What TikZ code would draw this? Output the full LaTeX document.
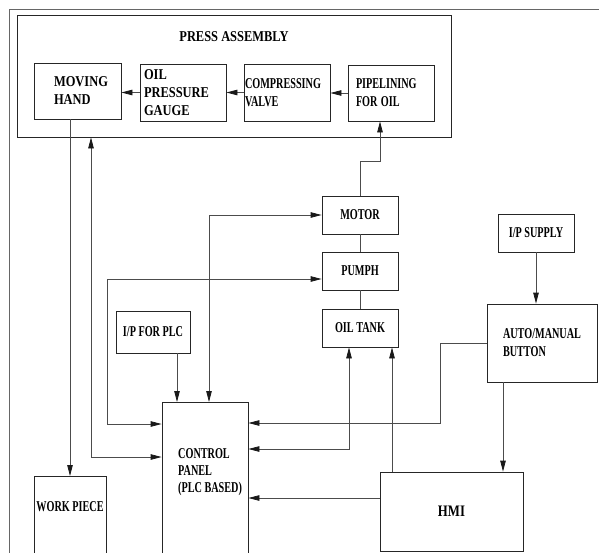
\documentclass[tikz,border=0pt]{standalone}
\usepackage{graphicx}
\usepackage{fontspec}
\setmainfont{Liberation Serif}
\usetikzlibrary{arrows.meta}

% narrow, tall caps as in the scanned chart
\newcommand{\nar}[1]{\scalebox{0.68}[1]{#1}}
\newcommand{\wid}[1]{\scalebox{0.83}[1]{#1}}

\tikzset{
    blk/.style={draw=black!85, line width=0.8pt, align=left, inner sep=0pt,
        font=\bfseries\fontsize{15}{18}\selectfont},
    txt/.style={align=left, inner sep=0pt, font=\bfseries\fontsize{15}{17}\selectfont},
    link/.style={draw=black!70, line width=0.8pt},
    frame/.style={draw=black!60, line width=0.8pt}
}

\begin{document}
\begin{tikzpicture}[x=1pt,y=-1pt,>={Triangle[length=11pt,width=5.5pt,color=black!90]}]
        % Page area
        \useasboundingbox (0,0) rectangle (599,552);
        \clip (0,0) rectangle (599,552);
        \draw[frame] (9,9) rectangle (650,650);

        % Press assembly and its parts
        \node[blk, minimum width=434pt, minimum height=122pt] (press) at (234,76) {};
        \node[txt] (presslbl) at (234,37) {\wid{PRESS ASSEMBLY}};
        \node[blk, minimum width=87pt, minimum height=56pt, text width=47pt] (hand) at (77.5,91) {\wid{MOVING}\\\wid{HAND}};
        \node[blk, minimum width=86pt, minimum height=57pt, text width=78pt] (gauge) at (183,92.5) {\wid{OIL}\\\wid{PRESSURE}\\\wid{GAUGE}};
        \node[blk, minimum width=86pt, minimum height=57pt, text width=84pt] (valve) at (287,92.5) {\nar{COMPRESSING}\\\nar{VALVE}};
        \node[blk, minimum width=86pt, minimum height=56pt, text width=70pt] (pipe) at (391,93) {\nar{PIPELINING}\\\nar{FOR OIL}};

        % Oil circuit
        \node[blk, minimum width=76pt, minimum height=38pt] (motor) at (360,215) {\nar{MOTOR}};
        \node[blk, minimum width=76pt, minimum height=38pt] (pump) at (360,271) {\nar{PUMPH}};
        \node[blk, minimum width=76pt, minimum height=38pt] (tank) at (360,328) {\nar{OIL TANK}};

        % Control side
        \node[blk, minimum width=74pt, minimum height=42pt] (plcin) at (153,332) {\nar{I/P FOR PLC}};
        \node[blk, minimum width=86pt, minimum height=250pt, anchor=north] (panel) at (205,402) {};
        \node[txt, anchor=west] (panellbl) at (178,472) {\nar{CONTROL}\\\nar{PANEL}\\\nar{(PLC BASED)}};
        \node[blk, minimum width=72pt, minimum height=150pt, anchor=north] (work) at (70,476) {};
        \node[txt] (worklbl) at (70,507) {\nar{WORK PIECE}};
        \node[blk, minimum width=143pt, minimum height=79pt] (hmi) at (451.5,511.5) {\fontsize{16}{18}\selectfont\scalebox{0.8}[1]{HMI}};
        \node[blk, minimum width=110pt, minimum height=78pt] (auto) at (542,343) {\nar{AUTO/MANUAL}\\\nar{BUTTON}};
        \node[blk, minimum width=76pt, minimum height=38pt] (supply) at (536,233) {\nar{I/P SUPPLY}};

        % Bends of the wires
        \coordinate (pressret) at (91,457);
        \coordinate (pumpbus) at (107,424);
        \coordinate (pumpin) at ([yshift=-8pt]pump.west);
        \coordinate (motorbus) at (209,215);
        \coordinate (plcout) at ([xshift=24pt]plcin.south);
        \coordinate (pipefeed) at (380,161);
        \coordinate (tankbus) at (349,449);
        \coordinate (hmiup) at ([xshift=-59.5pt]hmi.north);
        \coordinate (hmiout) at ([yshift=13.5pt]hmi.west);
        \coordinate (autobus) at (440,423);
        \coordinate (autodown) at ([xshift=-39pt]auto.south);

        % Flow inside the press
        \draw[link,->] (pipe.west) -- (pipe.west -| valve.east);
        \draw[link,->] (valve.west) -- (gauge.east);
        \draw[link,->] (gauge.west) -- (gauge.west -| hand.east);
        \draw[link,->] (hand.south -| work.north) -- (work.north);

        % Wires to and from the panel
        \draw[link,<->] (panel.west |- pressret) -- (pressret) -- (pressret |- press.south);
        \draw[link,<->] (panel.west |- pumpbus) -- (pumpbus) |- (pumpin);
        \draw[link,<->] (motorbus |- panel.north) |- (motor.west);
        \draw[link,->] (plcout) -- (plcout |- panel.north);
        \draw[link,->] (motor.north) |- (pipefeed) -- (pipefeed |- pipe.south);
        \draw[link] (motor) -- (pump);
        \draw[link] (pump) -- (tank);
        \draw[link,<->] (panel.east |- tankbus) -- (tankbus) -- (tankbus |- tank.south);
        \draw[link,->] (hmiup) -- (hmiup |- tank.south);
        \draw[link,->] (hmiout) -- (panel.east |- hmiout);
        \draw[link,->] (auto.west) -| (autobus) -- (panel.east |- autobus);
        \draw[link,->] (autodown) -- (autodown |- hmi.north);
        \draw[link,->] (supply.south) -- (supply.south |- auto.north);

    \end{tikzpicture}
\end{document}
